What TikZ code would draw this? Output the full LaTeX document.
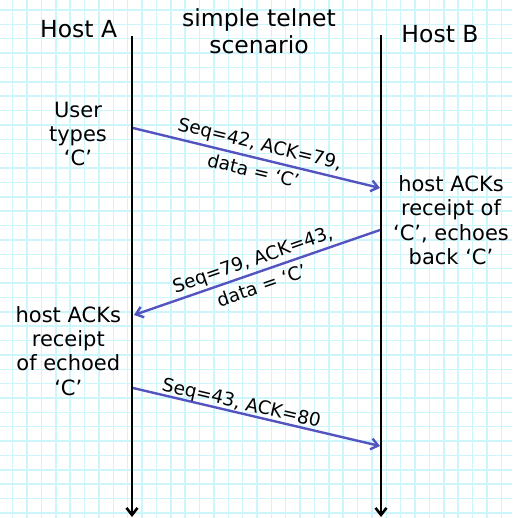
\documentclass[tikz,border=0pt]{standalone}
\usepackage{fontspec}
\setmainfont{DejaVu Sans}
\usetikzlibrary{arrows.meta}

\definecolor{gridcyan}{RGB}{205,246,252}
\definecolor{msgblue}{RGB}{84,84,192}

\tikzset{
  lifeline/.style={line width=2.6pt, black, -{Straight Barb[length=7pt,width=11pt]}},
  msg/.style={line width=2.4pt, msgblue, -{Straight Barb[length=7pt,width=11pt]}},
  header/.style={font=\fontsize{23.5}{27}\selectfont, inner sep=0pt, anchor=base},
  remark/.style={font=\fontsize{21}{24.3}\selectfont, inner sep=0pt, align=center, anchor=base},
  msglabel/.style={font=\fontsize{18.5}{28}\selectfont, inner sep=0pt, align=center, sloped, text=black},
}

\begin{document}
\begin{tikzpicture}[x=1pt, y=-1pt]
  \useasboundingbox (0,0) rectangle (512,518);
  \fill[white] (0,0) rectangle (512,518);

  % graph-paper background
  \foreach \i in {0,...,35} {
    \draw[gridcyan, line width=1.5pt] ({12.7+14.37*\i},0) -- ({12.7+14.37*\i},518);
    \draw[gridcyan, line width=1.5pt] (0,{10+14.37*\i}) -- (512,{10+14.37*\i});
  }

  % titles
  \node[header] (hostA) at (78.7,37.5) {Host A};
  \node[header] (hostB) at (440,42.7) {Host B};
  \node[header] (title1) at (259,27) {simple telnet};
  \node[header] (title2) at (259,54) {scenario};

  % lifelines
  \coordinate (atop) at (132,36);
  \coordinate (abot) at (132,517);
  \coordinate (btop) at (381,35);
  \coordinate (bbot) at (381,517);
  \draw[lifeline] (atop) -- (abot);
  \draw[lifeline] (btop) -- (bbot);

  % message end points
  \coordinate (a1) at (133,128);
  \coordinate (b1) at (380,188);
  \coordinate (b2) at (380,230);
  \coordinate (a2) at (134,315);
  \coordinate (a3) at (133,388);
  \coordinate (b3) at (380,446);

  % messages
  \draw[msg] (a1) -- node[msglabel, yshift=1pt] (l1) {Seq=42, ACK=79,\\data = ‘C’} (b1);
  \draw[msg] (b2) -- node[msglabel] (l2) {Seq=79, ACK=43,\\data = ‘C’} (a2);
  \draw[msg] (a3) -- node[msglabel, pos=0.43, anchor=south, yshift=-1pt] (l3) {Seq=43, ACK=80} (b3);

  % host remarks (base anchor sits on the last line)
  \node[remark] (r1) at (78,166) {User\\types\\‘C’};
  \node[remark] (r2) at (451,264.3) {host ACKs\\receipt of\\‘C’, echoes\\back ‘C’};
  \node[remark] (r3) at (68.3,395) {host ACKs\\receipt\\of echoed\\‘C’};
\end{tikzpicture}
\end{document}
